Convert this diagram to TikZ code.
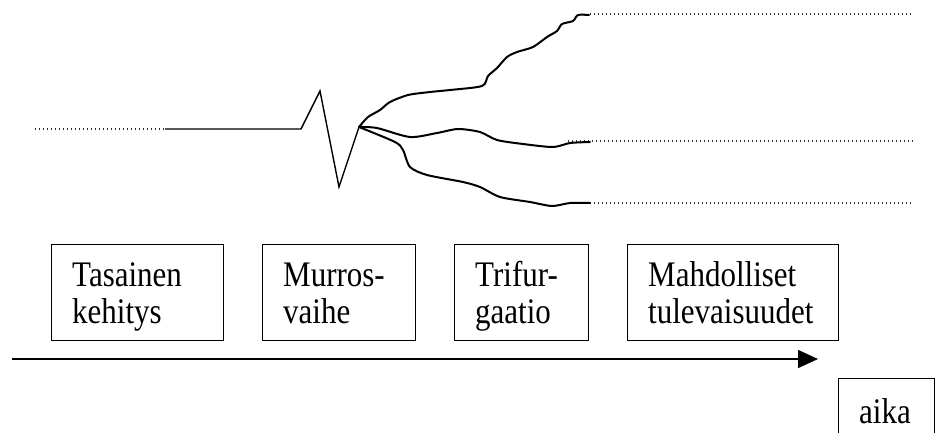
\documentclass[tikz,border=0pt]{standalone}
\usepackage{fontspec}
\setmainfont{Liberation Serif}
\usetikzlibrary{arrows.meta}
\begin{document}
\begin{tikzpicture}[x=1pt,y=-1pt,
  box/.style={draw, line width=1.3pt, inner sep=0pt, minimum height=96pt, anchor=north west},
  txt/.style={align=left, inner sep=0pt, anchor=west, yscale=1.16, transform shape,
              font=\fontsize{31}{31.5}\selectfont},
  dotline/.style={line width=1.1pt, black!80, dash pattern=on 1.2pt off 2.8pt},
  curve/.style={line width=2pt, line join=round, line cap=round},
]
\useasboundingbox (0,0) rectangle (938,432);

% dotted guide lines
\coordinate (dl1) at (35,129);  \coordinate (dl2) at (165,129);
\coordinate (dt1) at (590,14);  \coordinate (dt2) at (912,14);
\coordinate (dm1) at (568,141); \coordinate (dm2) at (915,141);
\coordinate (db1) at (590,203); \coordinate (db2) at (912,203);
\draw[dotline] (dl1) -- (dl2);
\draw[dotline] (dt1) -- (dt2);
\draw[dotline] (dm1) -- (dm2);
\draw[dotline] (db1) -- (db2);

% smooth development and break phase
\coordinate (z0) at (165,129);
\coordinate (z1) at (301,129);
\coordinate (z2) at (320,91);
\coordinate (z3) at (339,187);
\coordinate (br) at (359,127);
\draw[line width=1.4pt, line join=miter] (z0) -- (z1) -- (z2) -- (z3) -- (br);

% three branches
\draw[curve] plot[smooth, tension=0.45] coordinates {(359,127) (368,117) (380,110) (390,102) (408,95) (430,92) (450,90) (482,86) (488,76) (497,68) (507,57) (517,52) (533,47) (547,37) (557,31) (562,24) (573,21) (578,15) (589,15)};
\draw[curve] plot[smooth, tension=0.45] coordinates {(359,127) (377,128) (410,137) (437,133) (458,129) (480,132) (497,140) (523,144) (553,147) (570,143) (590,142)};
\draw[curve] plot[smooth, tension=0.45] coordinates {(359,127) (395,142) (403,150) (410,167) (427,175) (463,182) (480,187) (500,197) (530,202) (552,206) (570,203) (590,203)};

% boxes
\node[box, minimum width=172pt] (b1) at (51,244) {};
\node[txt] (t1) at ([xshift=21pt,yshift=-5pt]b1.west) {\strut Tasainen\\kehitys\strut};
\node[box, minimum width=153pt] (b2) at (262,244) {};
\node[txt] (t2) at ([xshift=21pt,yshift=-5pt]b2.west) {\strut Murros-\\vaihe\strut};
\node[box, minimum width=134pt] (b3) at (454,244) {};
\node[txt] (t3) at ([xshift=21pt,yshift=-5pt]b3.west) {\strut Trifur-\\gaatio\strut};
\node[box, minimum width=211pt] (b4) at (627,244) {};
\node[txt] (t4) at ([xshift=21pt,yshift=-5pt]b4.west) {\strut Mahdolliset\\tulevaisuudet\strut};

% time arrow
\coordinate (a0) at (12,359);
\coordinate (a1) at (818,359);
\draw[line width=1.5pt, -{Triangle[length=20pt, width=18pt]}] (a0) -- (a1);

% time box
\node[draw, line width=1.3pt, minimum width=96pt, minimum height=55pt, inner sep=0pt, anchor=north west] (aika) at (838,378) {};
\node[txt, anchor=base] (aikat) at (885,423) {aika};
\end{tikzpicture}
\end{document}
